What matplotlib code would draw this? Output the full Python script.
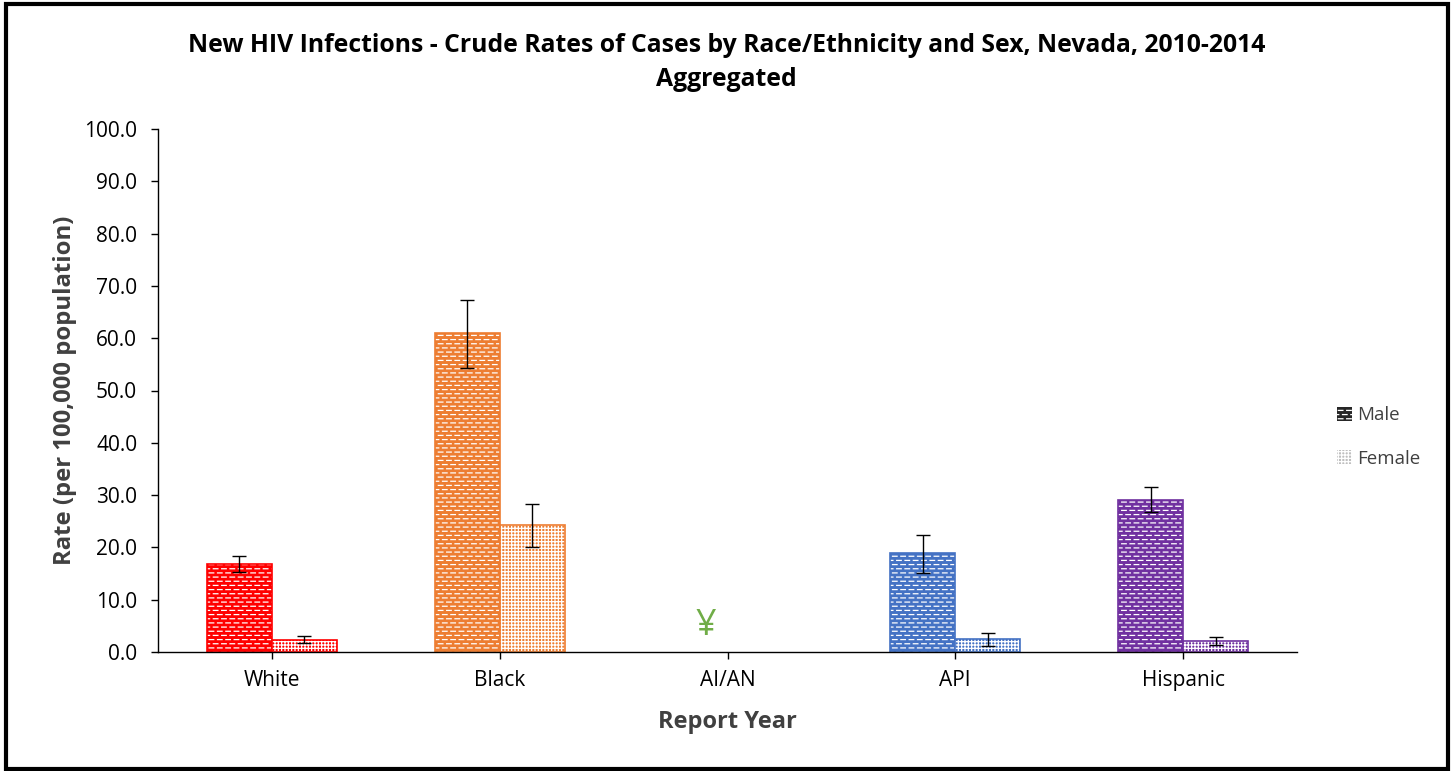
import warnings
import matplotlib.pyplot as plt
import matplotlib.patches as mpatches
import matplotlib.hatch as mhatch
from matplotlib.path import Path
import numpy as np

warnings.filterwarnings('ignore')

# 資料
categories = ['White', 'Black', 'AI/AN', 'API', 'Hispanic']
male_rate = [16.8, 61.0, 0.0, 18.9, 29.1]
male_lo = [15.3, 54.3, 0.0, 15.1, 26.8]
male_hi = [18.3, 67.3, 0.0, 22.4, 31.5]
female_rate = [2.3, 24.3, 0.0, 2.5, 2.1]
female_lo = [1.7, 20.1, 0.0, 1.1, 1.3]
female_hi = [3.1, 28.3, 0.0, 3.6, 2.9]
colors = ['#ff0000', '#ed7d31', '#70ad47', '#4472c4', '#7030a0']
suppressed = [False, False, True, False, False]


# 自訂磚紋 (橫向虛線, 交錯排列)
class DashHatch(mhatch.HatchPatternBase):
    def __init__(self, hatch, density):
        self.n_rows = hatch.count('b') * density
        self.n_dash = self.n_rows // 2
        self.num_vertices = self.n_rows * (self.n_dash + 1) * 2

    def set_vertices_and_codes(self, vertices, codes):
        p = 1.0 / self.n_dash
        L = 0.55 * p
        k = 0
        for r in range(self.n_rows):
            y = (r + 0.5) / self.n_rows
            segs = []
            if r % 2 == 0:
                for d in range(self.n_dash):
                    segs.append((d * p + 0.1 * p, d * p + 0.1 * p + L))
                segs.append((0.0, 0.0))
            else:
                for d in range(self.n_dash - 1):
                    segs.append((d * p + 0.6 * p, d * p + 0.6 * p + L))
                segs.append((1.0 - 0.4 * p, 1.0))
                segs.append((0.0, L - 0.4 * p))
            for a, b in segs:
                vertices[k] = [a, y]
                vertices[k + 1] = [b, y]
                codes[k] = Path.MOVETO
                codes[k + 1] = Path.LINETO
                k += 2


mhatch._hatch_types.append(DashHatch)

plt.rcParams['font.family'] = ['Open Sans', 'DejaVu Sans']
plt.rcParams['hatch.linewidth'] = 0.9

fig = plt.figure(figsize=(14.53, 7.71), dpi=100)
ax = fig.add_axes([158/1453, 1 - 652/771, (1297-158)/1453, (652-129)/771])

x = np.arange(len(categories))
w = 0.286

for i in range(len(categories)):
    if suppressed[i]:
        ax.text(x[i] - 0.095, 5.0, '¥', color=colors[i], fontsize=26, ha='center', va='center')
        continue
    # 男性：磚紋
    ax.bar(x[i] - w/2, male_rate[i], w, color=colors[i], edgecolor='white', hatch='bbbb', linewidth=0)
    ax.bar(x[i] - w/2, male_rate[i], w, fill=False, edgecolor=colors[i], linewidth=1.2)
    # 女性：格紋
    ax.bar(x[i] + w/2, female_rate[i], w, color=colors[i], edgecolor='white', hatch='+++++', linewidth=0)
    ax.bar(x[i] + w/2, female_rate[i], w, fill=False, edgecolor=colors[i], linewidth=1.2)
    ax.errorbar(x[i] - w/2, male_rate[i],
                yerr=[[male_rate[i] - male_lo[i]], [male_hi[i] - male_rate[i]]],
                fmt='none', ecolor='black', elinewidth=1, capsize=5, capthick=1)
    ax.errorbar(x[i] + w/2, female_rate[i],
                yerr=[[female_rate[i] - female_lo[i]], [female_hi[i] - female_rate[i]]],
                fmt='none', ecolor='black', elinewidth=1, capsize=5, capthick=1)

ax.set_xlim(-0.5, 4.5)
ax.set_ylim(0, 100)
ax.set_yticks(np.arange(0, 101, 10))
ax.set_yticklabels([f'{v:.1f}' for v in np.arange(0, 101, 10)], fontsize=15)
ax.set_xticks(x)
ax.set_xticklabels(categories, fontsize=15)
ax.tick_params(axis='both', direction='out', length=5, width=1, colors='black')
ax.tick_params(axis='y', pad=10)
ax.tick_params(axis='x', pad=8)
ax.spines['top'].set_visible(False)
ax.spines['right'].set_visible(False)
ax.spines['left'].set_linewidth(1)
ax.spines['bottom'].set_linewidth(1)

ax.set_ylabel('Rate (per 100,000 population)', fontsize=17.2, fontweight='bold', color='#404040', labelpad=5)
ax.set_xlabel('Report Year', fontsize=17, fontweight='bold', color='#404040', labelpad=14)

fig.text(0.5, 1 - 45/771, 'New HIV Infections - Crude Rates of Cases by Race/Ethnicity and Sex, Nevada, 2010-2014',
         ha='center', va='center', fontsize=17.8, fontweight='bold')
fig.text(0.5, 1 - 79/771, 'Aggregated', ha='center', va='center', fontsize=17.8, fontweight='bold')

# 圖例
h_m = mpatches.Patch(facecolor='#262626', edgecolor='white', hatch='bbbb', linewidth=0, label='Male')
h_f = mpatches.Patch(facecolor='#bfbfbf', edgecolor='white', hatch='+++++', linewidth=0, label='Female')
fig.legend(handles=[h_m, h_f], loc='center left', bbox_to_anchor=(1320/1453, 1 - 437/771),
           frameon=False, fontsize=13.5, labelcolor='#404040', handlelength=0.8, handleheight=0.8,
           handletextpad=0.3, labelspacing=1.35)

# 外框
fig.add_artist(mpatches.Rectangle((6/1453, 2/771), 1442/1453, 765/771, transform=fig.transFigure,
                                  fill=False, edgecolor='black', linewidth=3))

fig.savefig('out.png', dpi=100)
